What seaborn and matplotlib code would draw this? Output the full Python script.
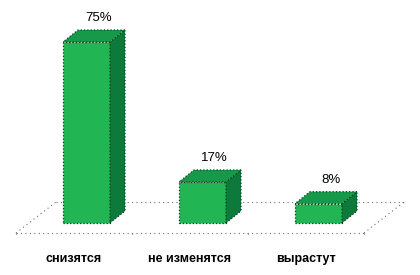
import matplotlib
matplotlib.use('Agg')
import matplotlib.pyplot as plt
import seaborn as sns
import pandas as pd
from matplotlib.patches import Polygon

categories = ['снизятся', 'не изменятся', 'вырастут']
values = [75, 17, 8]
value_labels = ['75%', '17%', '8%']

sns.set_style('white')
plt.rcParams['font.family'] = ['Liberation Sans', 'DejaVu Sans']

W, H = 420, 275
fig = plt.figure(figsize=(4.2, 2.75), dpi=100)
fig.patch.set_facecolor('white')
ax = fig.add_axes([28.5 / W, 52 / H, 348 / W, 181 / H])
df = pd.DataFrame({'cat': categories, 'val': values})

front_c = '#22B554'
top_c = '#17994A'
side_c = '#0D7A3C'
edge_c = '#0B3A1E'

sns.barplot(data=df, x='cat', y='val', ax=ax, color=front_c, width=47 / 116,
            saturation=1, edgecolor=edge_c, linewidth=0.9, linestyle=':', zorder=3)
ax.set_xlim(-0.5, 2.5)
ax.set_ylim(0, 75)
ax.axis('off')

ux = 1 / 116.0
uy = 75 / 181.0
ddx, ddy = 15 * ux, 12 * uy

# floor
gray = '#707070'
ls_dot = (0, (1, 3))
fy = -10 * uy
fx0, fx1 = -0.5 - 12.5 * ux, 2.5 - 12.5 * ux
by = fy + 31 * uy
bx0, bx1 = fx0 + 40 * ux, fx1 + 40 * ux
kw = dict(color=gray, lw=0.8, ls=ls_dot, clip_on=False)
ax.plot([fx0, fx1], [fy, fy], zorder=1, **kw)
ax.plot([bx0, bx1], [by, by], zorder=1, **kw)
ax.plot([fx0, bx0], [fy, by], zorder=1, **kw)
ax.plot([fx1, bx1], [fy, by], zorder=1, **kw)
for k in range(len(categories) + 1):
    tx = fx0 + k
    ax.plot([tx, tx], [fy, fy - 4 * uy], zorder=1, **kw)

for p, lab in zip(ax.patches, value_labels):
    x0, w, h = p.get_x(), p.get_width(), p.get_height()
    p.set_clip_on(False)
    top = Polygon([(x0, h), (x0 + w, h), (x0 + w + ddx, h + ddy), (x0 + ddx, h + ddy)],
                  closed=True, fc=top_c, ec=edge_c, lw=0.9, ls=':', clip_on=False, zorder=3)
    side = Polygon([(x0 + w, 0), (x0 + w + ddx, ddy), (x0 + w + ddx, h + ddy), (x0 + w, h)],
                   closed=True, fc=side_c, ec=edge_c, lw=0.9, ls=':', clip_on=False, zorder=3)
    ax.add_patch(side)
    ax.add_patch(top)
    ax.text(x0 + w / 2 + 12 * ux, h + 24 * uy, lab, ha='center', va='center',
            fontsize=9.5, color='black', clip_on=False)

for i, c in enumerate(categories):
    ax.text(i - 12.5 * ux, -36 * uy, c, ha='center', va='center', fontsize=9,
            fontweight='bold', color='black', clip_on=False)

fig.savefig('out.png', dpi=100, facecolor='white')
